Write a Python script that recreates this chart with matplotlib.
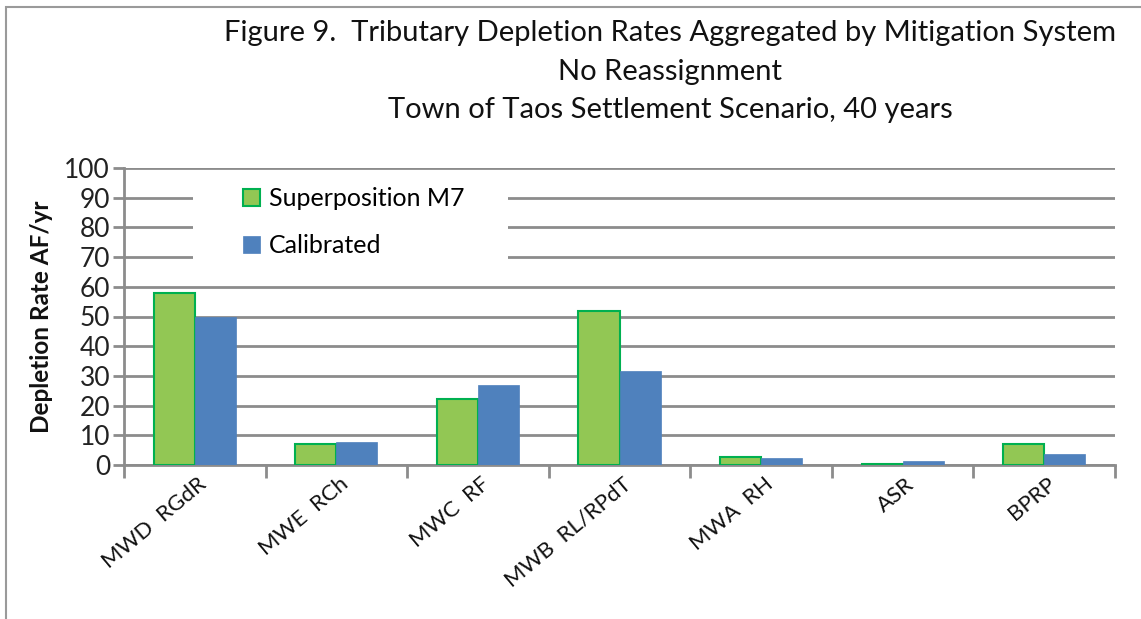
import numpy as np
import matplotlib.pyplot as plt
from matplotlib.patches import Rectangle

plt.rcParams["font.family"] = ["Lato", "DejaVu Sans"]

categories = ["MWD  RGdR", "MWE  RCh", "MWC  RF", "MWB  RL/RPdT", "MWA  RH", "ASR", "BPRP"]
superposition_m7 = [57.8, 7.2, 22.2, 52.0, 2.8, 0.4, 7.1]
calibrated = [50.0, 7.8, 27.0, 31.7, 2.3, 1.4, 3.6]
y_ticks = list(range(0, 101, 10))

GREEN = "#92C754"
GREEN_EDGE = "#00B050"
BLUE = "#4F81BD"
GRID = "#8C8C8C"

fig = plt.figure(figsize=(11.41, 6.19), dpi=100)
ax = fig.add_axes([124 / 1141, 154 / 619, 991 / 1141, 297 / 619])

# frame around the chart (left + top visible)
fig.patches.append(Rectangle((6 / 1141, -0.1), 1.2, (612 / 619) + 0.1,
                             transform=fig.transFigure, fill=False,
                             edgecolor="#9A9A9A", lw=1.5))

x = np.arange(len(categories))
w = 0.29
ax.bar(x - w / 2, superposition_m7, w, color=GREEN, edgecolor=GREEN_EDGE,
       linewidth=1.5, label="Superposition M7", zorder=3)
ax.bar(x + w / 2, calibrated, w, color=BLUE, edgecolor=BLUE,
       linewidth=0.5, label="Calibrated", zorder=3)

ax.set_xlim(-0.5, len(categories) - 0.5)
ax.set_ylim(0, 100)
ax.set_yticks(y_ticks)
ax.yaxis.grid(True, color=GRID, lw=2, zorder=0)
ax.set_axisbelow(True)

ax.set_xticks(np.arange(len(categories) + 1) - 0.5)
ax.set_xticklabels([])
ax.tick_params(axis="x", length=9, width=2, color=GRID)
ax.tick_params(axis="y", length=8, width=2, color=GRID, labelsize=19, pad=2)
for t in ax.get_yticklabels():
    t.set_color("#222222")

for s in ["top", "right"]:
    ax.spines[s].set_visible(False)
for s in ["left", "bottom"]:
    ax.spines[s].set_color(GRID)
    ax.spines[s].set_linewidth(2)

# category labels, rotated like the original
for i, c in enumerate(categories):
    ax.text(i + 0.02, -3.0, c, rotation=40, ha="right", va="top",
            rotation_mode="anchor", fontsize=16, color="#111111",
            clip_on=False)

ax.set_ylabel("Depletion Rate AF/yr", fontsize=17.5, fontweight="bold",
              labelpad=8, color="#111111")

# white legend area that hides the gridlines behind it
ax.add_patch(Rectangle((-0.013, 62.3), 2.225, 35.3, facecolor="white",
                       edgecolor="none", zorder=1))
leg = ax.legend(loc="upper left", bbox_to_anchor=(0.12, 0.935),
                frameon=False, fontsize=18, handlelength=0.7, handleheight=0.7,
                handletextpad=0.35, labelspacing=0.95, borderpad=0,
                borderaxespad=0)

title_lines = ["Figure 9.  Tributary Depletion Rates Aggregated by Mitigation System",
               "No Reassignment",
               "Town of Taos Settlement Scenario, 40 years"]
for k, line in enumerate(title_lines):
    fig.text(670 / 1141, 1 - (33.5 + 38.5 * k) / 619, line, ha="center",
             va="center", fontsize=21, color="#111111")

fig.savefig("out.png", dpi=100)
